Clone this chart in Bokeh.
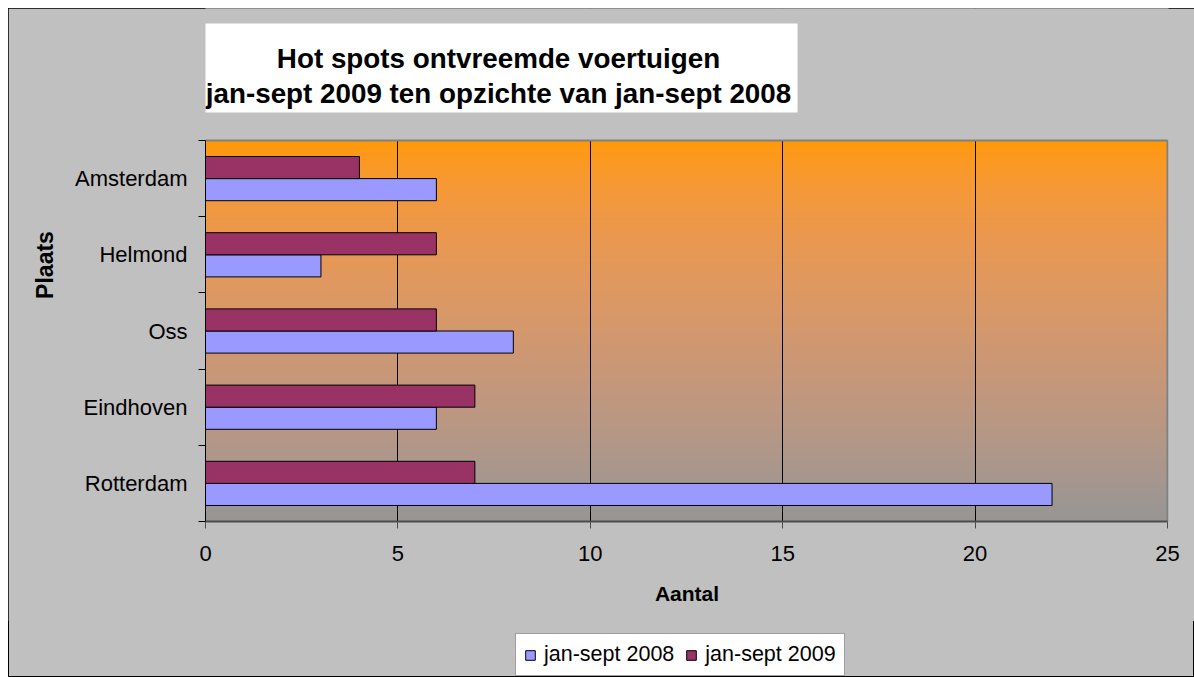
import numpy as np
from bokeh.plotting import figure
from bokeh.layouts import column
from bokeh.models import Range1d, FixedTicker, Legend, LegendItem, ColumnDataSource
from bokeh.core.properties import value
from bokeh.embed import file_html
from bokeh.resources import INLINE

# ---- data (bottom to top) ----
cities = ["Rotterdam", "Eindhoven", "Oss", "Helmond", "Amsterdam"]
v2008 = [22, 6, 8, 3, 6]
v2009 = [7, 7, 6, 6, 4]
series_names = ["jan-sept 2008", "jan-sept 2009"]
series_colors = ["#9999FF", "#993366"]
x_ticks = [0, 5, 10, 15, 20, 25]
x_max = 25
title_lines = ["Hot spots ontvreemde voertuigen",
               "jan-sept 2009 ten opzichte van jan-sept 2008"]

FONT = "Liberation Sans"
BG = "#C0C0C0"
W = 1186
H_MAIN, H_LEG = 613, 56

# ---- layout geometry (figure pixels) ----
FL, FR_PAD, FB = 197, 26, 100          # frame left, right border, bottom border
PLOT_TOP = 132                          # top of the plotted (gradient) area
frame_w = W - FL - FR_PAD
frame_h = H_MAIN - FB                   # frame starts at the very top
px_per_x = (frame_w - 1) / x_max
n = len(cities)
px_per_y = (frame_h - PLOT_TOP) / n
x_end = frame_w / px_per_x
y_end = frame_h / px_per_y

def xdata(px):   # figure pixel -> data x
    return (px - FL) / px_per_x

def ydata(py):   # figure pixel -> data y
    return (frame_h - py) / px_per_y

p = figure(width=W, height=H_MAIN,
           x_range=Range1d(0, x_end), y_range=Range1d(0, y_end),
           output_backend="svg", toolbar_location=None,
           min_border_left=FL, min_border_right=FR_PAD, min_border_top=0, min_border_bottom=FB)
p.border_fill_color = BG
p.background_fill_color = BG
p.outline_line_color = None

# ---- gradient plot area: orange at top -> gray at bottom (linear-light blend) ----
def to_lin(c):
    c = np.asarray(c, dtype=float) / 255.0
    return np.where(c <= 0.04045, c / 12.92, ((c + 0.055) / 1.055) ** 2.4)

def to_srgb(l):
    s = np.where(l <= 0.0031308, l * 12.92, 1.055 * np.power(l, 1 / 2.4) - 0.055)
    return np.clip(np.round(s * 255), 0, 255).astype(np.uint8)

NG = 256
t = np.linspace(0, 1, NG)[:, None]
rgb = to_srgb(to_lin([150, 150, 150]) * (1 - t) + to_lin([255, 153, 0]) * t)
img = np.empty((NG, 1), dtype=np.uint32)
view = img.view(dtype=np.uint8).reshape((NG, 1, 4))
view[:, 0, 0] = rgb[:, 0]
view[:, 0, 1] = rgb[:, 1]
view[:, 0, 2] = rgb[:, 2]
view[:, 0, 3] = 255
p.image_rgba(image=[img], x=0, y=0, dw=x_max, dh=n, level="image")

# chart-background cover above the plot area (hides grid lines there)
p.quad(left=xdata(FL - 5), right=x_end + 1, bottom=n, top=y_end + 1,
       fill_color=BG, line_color=None)

# plot-area border (top and right, gray)
p.multi_line(xs=[[0, x_max], [x_max, x_max]], ys=[[n, n], [0, n]],
             line_color="#808080", line_width=2)

# ---- bars ----
centers = [i + 0.5 for i in range(n)]
bar_h = 0.29
src = ColumnDataSource(dict(
    y08=[c - bar_h / 2 for c in centers],
    y09=[c + bar_h / 2 for c in centers],
    v08=v2008, v09=v2009))
p.hbar(y="y08", right="v08", left=0, height=bar_h, source=src,
       fill_color=series_colors[0], line_color="black", line_width=1)
p.hbar(y="y09", right="v09", left=0, height=bar_h, source=src,
       fill_color=series_colors[1], line_color="black", line_width=1)

# ---- grid ----
p.ygrid.visible = False
p.xgrid.ticker = FixedTicker(ticks=[5, 10, 15, 20])
p.xgrid.grid_line_color = "black"
p.xgrid.grid_line_width = 1

# ---- x axis ----
xa = p.xaxis[0]
xa.ticker = FixedTicker(ticks=x_ticks)
xa.bounds = (0, x_max)
xa.major_tick_out = 7
xa.major_tick_in = 0
xa.minor_tick_out = 0
xa.axis_line_color = "#4d4d4d"
xa.axis_line_width = 2
xa.major_tick_line_color = "#4d4d4d"
xa.major_label_text_font = FONT
xa.major_label_text_font_size = "22px"
xa.major_label_text_color = "black"
xa.major_label_standoff = 17
xa.axis_label = "Aantal"
xa.axis_label_text_font = FONT
xa.axis_label_text_font_size = "21px"
xa.axis_label_text_font_style = "bold"
xa.axis_label_text_color = "black"
xa.axis_label_standoff = 18

# ---- y axis ----
ya = p.yaxis[0]
ya.ticker = FixedTicker(ticks=centers, minor_ticks=list(range(n + 1)))
ya.bounds = (0, n)
ya.major_label_overrides = {c: name for c, name in zip(centers, cities)}
ya.major_tick_out = 0
ya.major_tick_in = 0
ya.minor_tick_out = 7
ya.minor_tick_in = 0
ya.minor_tick_line_color = "black"
ya.axis_line_color = "black"
ya.major_label_text_font = FONT
ya.major_label_text_font_size = "22px"
ya.major_label_text_color = "black"
ya.major_label_standoff = 11
ya.axis_label = "Plaats"
ya.axis_label_text_font = FONT
ya.axis_label_text_font_size = "23px"
ya.axis_label_text_font_style = "bold"
ya.axis_label_text_color = "black"
ya.axis_label_standoff = 14

# ---- title box (inside the frame, above the plot area) ----
p.quad(left=xdata(192), right=xdata(789), top=ydata(15), bottom=ydata(104),
       fill_color="white", line_color=None)
p.text(x=[xdata(490)] * 2, y=[ydata(49.7), ydata(85.3)], text=title_lines,
       text_font=value(FONT), text_font_size="27.8px", text_font_style="bold",
       text_color="black", text_align="center", text_baseline="alphabetic")

# =================== legend strip ===================
lf = figure(width=W, height=H_LEG, x_range=Range1d(0, 1), y_range=Range1d(0, 1),
            output_backend="svg", toolbar_location=None,
            x_axis_type=None, y_axis_type=None,
            min_border_left=FL, min_border_right=FR_PAD, min_border_top=0, min_border_bottom=0)
lf.border_fill_alpha = 0
lf.background_fill_alpha = 0
lf.outline_line_color = None
lf.grid.visible = False
# legend swatches (single proxy bar each, placed outside the visible range)
lr08 = lf.hbar(y=[-5], right=[1], left=0, height=0.3,
               fill_color=series_colors[0], line_color="black", line_width=1)
lr09 = lf.hbar(y=[-5], right=[1], left=0, height=0.3,
               fill_color=series_colors[1], line_color="black", line_width=1)
legend = Legend(items=[LegendItem(label=series_names[0], renderers=[lr08]),
                       LegendItem(label=series_names[1], renderers=[lr09])],
                location=(310, 1), orientation="horizontal")
legend.background_fill_color = "white"
legend.background_fill_alpha = 1.0
legend.border_line_color = "#404040"
legend.border_line_width = 1
legend.label_text_font = FONT
legend.label_text_font_size = "21.5px"
legend.label_text_color = "black"
legend.glyph_width = 12
legend.glyph_height = 12
legend.label_standoff = 8
legend.spacing = 11
legend.padding = 8
legend.margin = 0
lf.add_layout(legend, "center")

layout = column(p, lf, spacing=0,
                styles={"margin-left": "8px", "margin-top": "8px",
                        "background-color": BG,
                        "outline": "1px solid black", "outline-offset": "-1px"})

open("out.html", "w").write(file_html(layout, INLINE))
